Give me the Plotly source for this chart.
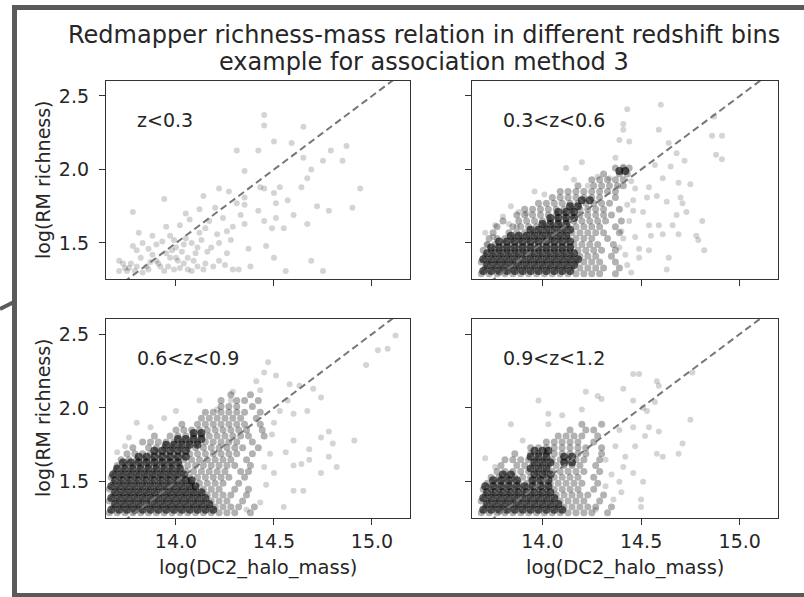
import plotly.graph_objects as go

# ---------------- data ----------------
x_ticks = [14.0, 14.5, 15.0]
y_ticks = [1.5, 2.0, 2.5]
x_range = [13.643, 15.194]
y_range = [1.255, 2.602]

# reference relation log(richness) = log(mass) - 12.5
ref_x = [13.6, 15.2]
ref_y = [1.1, 2.7]

bin_labels = ["z<0.3", "0.3<z<0.6", "0.6<z<0.9", "0.9<z<1.2"]

z1_pts = [(14.45,2.37),(14.45,2.30),(14.50,2.19),(14.59,2.18),(14.65,2.29),(14.87,2.16),(14.79,2.13),
    (14.31,2.13),(14.42,2.13),(14.65,2.08),(14.85,2.06),(14.75,2.06),(14.69,2.00),(14.35,1.99),(14.94,1.87),
    (14.64,1.88),(14.67,1.94),(14.45,1.87),(14.43,1.88),(14.53,1.88),(14.22,1.87),(13.94,1.80),(14.14,1.82),
    (14.27,1.85),(14.50,1.84),(14.57,1.79),(14.51,1.77),(14.72,1.75),(14.78,1.72),(14.90,1.74),(14.60,1.69),
    (14.67,1.63),(14.51,1.67),(14.45,1.65),(14.49,1.60),(14.55,1.60),(13.78,1.71),(14.35,1.81),(14.31,1.77),
    (14.35,1.76),(14.33,1.69),(14.35,1.63),(14.42,1.72),(14.46,1.48),(14.50,1.40),(14.69,1.38),(14.75,1.31),
    (14.56,1.31),(14.38,1.34),(14.32,1.32),(14.20,1.74),(14.12,1.73),(14.24,1.67),(14.17,1.65),(14.07,1.66),
    (14.12,1.57),(14.21,1.56),(14.28,1.52),(14.05,1.53),(13.99,1.52),(13.95,1.61),(14.02,1.62),(13.88,1.55),
    (13.90,1.49),(13.81,1.57),(13.83,1.50),(13.78,1.48),(13.71,1.38),(13.77,1.36),(13.82,1.40),(13.85,1.34),
    (13.90,1.38),(13.94,1.31),(13.99,1.32),(14.04,1.36),(14.09,1.38),(14.14,1.32),(14.19,1.34),(14.22,1.38),
    (14.26,1.43),(14.16,1.44),(14.11,1.47),(14.03,1.44),(13.95,1.43),(13.88,1.42),(13.75,1.31),(13.71,1.31),
    (13.83,1.30),(14.08,1.31),(14.29,1.32),(14.22,1.50),(14.13,1.52),(14.00,1.47),(13.93,1.51),(14.37,1.46),
    (14.29,1.61),(13.73,1.36),(13.76,1.33),(13.80,1.34),(13.87,1.37),(13.92,1.34),(13.97,1.40),(14.02,1.33),
    (14.06,1.40),(14.10,1.43),(14.15,1.36),(13.86,1.46),(13.97,1.55),(14.08,1.50),(14.18,1.47),(14.25,1.35),
    (13.80,1.45),(14.05,1.70),(14.15,1.60),(14.26,1.58),(14.00,1.40),(13.74,1.33),(13.79,1.31),(13.86,1.32),
    (13.91,1.36),(13.96,1.34),(14.01,1.38),(14.06,1.32),(14.11,1.34),(13.98,1.45),(14.04,1.49)]

z2_pts = [(14.60,2.44),(14.43,2.41),(14.59,2.27),(14.41,2.31),(14.41,2.27),(14.39,2.20),(14.44,2.19),
    (14.87,2.36),(14.86,2.23),(14.91,2.23),(14.88,2.10),(14.91,2.07),(14.64,2.18),(14.72,2.06),(14.68,2.11),
    (14.57,2.03),(14.65,2.02),(14.37,2.08),(14.41,2.02),(14.20,2.05),(14.12,2.01),(14.16,1.93),(14.23,1.89),
    (14.34,1.94),(14.28,1.95),(13.96,1.85),(14.01,1.83),(13.84,1.75),(13.88,1.71),(13.92,1.70),(13.83,1.63),
    (13.87,1.61),(13.71,1.57),(13.72,1.49),(13.75,1.54),(14.61,1.94),(14.69,1.91),(14.75,1.90),(14.54,1.88),
    (14.47,1.87),(14.70,1.81),(14.58,1.82),(14.53,1.81),(14.46,1.79),(14.63,1.78),(14.73,1.71),(14.71,1.77),
    (14.68,1.69),(14.46,1.72),(14.51,1.71),(14.54,1.62),(14.59,1.62),(14.66,1.62),(14.55,1.55),(14.61,1.56),
    (14.69,1.56),(14.78,1.55),(14.81,1.65),(14.82,1.45),(14.79,1.52),(14.64,1.40),(14.63,1.32),(14.54,1.45),
    (14.49,1.46),(14.49,1.40),(14.44,1.65),(14.41,1.53),(14.39,1.47),(14.47,1.54),(14.43,1.35),(14.45,1.30),
    (14.42,1.42),(14.40,1.58),(14.43,1.76),(14.45,1.92),(13.80,1.68),(13.76,1.62)]

z3_pts = [(15.12,2.49),(15.08,2.40),(15.03,2.39),(14.97,2.29),(14.47,2.31),(14.45,2.24),(14.51,2.22),
    (14.41,2.18),(14.58,2.16),(14.63,2.15),(14.70,2.13),(14.74,2.07),(14.67,1.98),(14.53,1.98),(14.60,1.96),
    (14.57,2.05),(14.43,2.12),(14.29,2.11),(14.28,2.05),(14.12,2.05),(14.21,1.99),(14.00,1.98),(13.94,1.93),
    (13.87,1.87),(13.76,1.80),(13.74,1.74),(14.74,1.80),(14.80,1.76),(14.91,1.78),(14.78,1.84),(14.60,1.78),
    (14.56,1.70),(14.68,1.72),(14.60,1.61),(14.64,1.62),(14.68,1.65),(14.78,1.67),(14.82,1.60),(14.74,1.56),
    (14.60,1.44),(14.65,1.44),(14.55,1.33),(14.36,1.31),(14.50,1.56),(14.48,1.69),(14.45,1.60),(14.43,1.36),
    (14.46,1.48),(14.49,1.82),(14.50,1.90),(13.80,1.90),(13.70,1.70)]

z4_pts = [(14.46,2.23),(14.49,2.23),(14.58,2.18),(14.59,2.15),(14.76,2.24),(14.41,2.13),(14.22,2.11),
    (14.28,2.08),(14.30,2.06),(13.98,2.05),(14.20,1.99),(14.03,1.96),(14.10,1.95),(13.84,1.89),(14.51,2.00),
    (14.53,1.98),(14.57,2.04),(14.46,2.05),(14.75,1.92),(14.54,1.87),(14.46,1.87),(14.59,1.84),(14.52,1.81),
    (14.39,1.85),(14.47,1.74),(14.58,1.69),(14.71,1.76),(14.69,1.69),(14.61,1.67),(14.37,1.74),(14.42,1.67),
    (14.32,1.65),(14.41,1.60),(14.46,1.56),(14.51,1.50),(14.39,1.50),(14.32,1.47),(14.40,1.43),(14.50,1.38),
    (14.50,1.33),(14.27,1.31),(13.71,1.66),(14.03,1.89),(14.36,1.38),(14.35,1.55),(13.76,1.60),(13.90,1.78)]

# dense clouds: rows of (log richness, [log mass values])
z2_mid_rows = [
    (1.29, [13.69,13.73,13.77,13.81,13.85,13.89,13.93,13.97,14.01,14.05,14.09,14.13,14.17,14.21,14.25,14.29,14.37]),
    (1.33, [13.71,13.75,13.79,13.83,13.87,13.91,13.95,13.99,14.03,14.07,14.11,14.15,14.19,14.23,14.27,14.31,14.39]),
    (1.37, [13.69,13.73,13.77,13.81,13.85,13.89,13.93,13.97,14.01,14.05,14.09,14.13,14.17,14.21,14.25,14.29,14.37]),
    (1.41, [13.71,13.75,13.79,13.83,13.87,13.91,13.95,13.99,14.03,14.07,14.11,14.15,14.19,14.23,14.27,14.35]),
    (1.45, [13.70,13.74,13.78,13.82,13.86,13.90,13.94,13.98,14.02,14.06,14.10,14.14,14.18,14.22,14.26,14.30,14.37]),
    (1.49, [13.72,13.76,13.80,13.84,13.88,13.92,13.96,14.00,14.04,14.08,14.12,14.16,14.20,14.24,14.28,14.36]),
    (1.53, [13.73,13.77,13.81,13.85,13.89,13.93,13.97,14.01,14.05,14.09,14.13,14.17,14.21,14.25,14.33]),
    (1.57, [13.75,13.83,13.87,13.91,13.95,13.99,14.03,14.07,14.11,14.15,14.19,14.23,14.27,14.31,14.39]),
    (1.61, [13.77,13.85,13.89,13.93,13.97,14.01,14.05,14.09,14.13,14.17,14.21,14.25,14.29,14.37]),
    (1.65, [13.80,13.88,13.92,13.96,14.00,14.04,14.08,14.12,14.16,14.20,14.24,14.28,14.32,14.40]),
    (1.69, [13.87,13.91,13.95,13.99,14.03,14.07,14.11,14.15,14.19,14.23,14.27,14.31,14.35]),
    (1.73, [13.91,13.95,13.99,14.03,14.07,14.11,14.15,14.19,14.23,14.27,14.31,14.39]),
    (1.77, [13.98,14.02,14.06,14.10,14.14,14.18,14.22,14.26,14.30,14.34]),
    (1.81, [14.05,14.09,14.13,14.17,14.21,14.25,14.29,14.37]),
    (1.85, [14.09,14.13,14.17,14.21,14.25,14.29,14.33,14.37]),
    (1.89, [14.18,14.26,14.30,14.34,14.38,14.41]),
    (1.93, [14.25,14.29,14.33,14.37,14.41]),
    (1.97, [14.31,14.39,14.43]),
    (2.01, [14.37,14.41,14.44]),
]
z2_core_rows = [
    (1.31, [13.70,13.74,13.78,13.82,13.86,13.90,13.94,13.98,14.02,14.06,14.10,14.14]),
    (1.35, [13.72,13.76,13.80,13.84,13.88,13.92,13.96,14.00,14.04,14.08,14.12,14.16]),
    (1.39, [13.70,13.74,13.78,13.82,13.86,13.90,13.94,13.98,14.02,14.06,14.10,14.14,14.18]),
    (1.43, [13.72,13.76,13.80,13.84,13.88,13.92,13.96,14.00,14.04,14.08,14.12,14.16]),
    (1.47, [13.74,13.78,13.82,13.86,13.90,13.94,13.98,14.02,14.06,14.10,14.14]),
    (1.51, [13.78,13.82,13.86,13.90,13.94,13.98,14.02,14.06,14.10,14.14]),
    (1.55, [13.84,13.88,13.92,13.96,14.00,14.04,14.08,14.12]),
    (1.59, [13.94,13.98,14.02,14.06,14.10,14.14]),
    (1.63, [14.00,14.04,14.08,14.12]),
    (1.67, [14.04,14.08,14.12,14.16]),
    (1.71, [14.08,14.12,14.16]),
    (1.75, [14.14,14.18]),
    (1.79, [14.20,14.24]),
    (1.99, [14.39,14.42]),
]
z3_mid_rows = [
    (1.29, [13.66,13.70,13.74,13.78,13.82,13.86,13.90,13.94,13.98,14.02,14.06,14.10,14.14,14.18,14.22,14.26,14.30,14.38]),
    (1.33, [13.68,13.72,13.76,13.80,13.84,13.88,13.92,13.96,14.00,14.04,14.08,14.12,14.16,14.20,14.24,14.28,14.32,14.40]),
    (1.37, [13.66,13.70,13.74,13.78,13.82,13.86,13.90,13.94,13.98,14.02,14.06,14.10,14.14,14.18,14.22,14.26,14.34]),
    (1.41, [13.68,13.72,13.76,13.80,13.84,13.88,13.92,13.96,14.00,14.04,14.08,14.12,14.16,14.20,14.24,14.28,14.36]),
    (1.45, [13.66,13.70,13.74,13.78,13.82,13.86,13.90,13.94,13.98,14.02,14.06,14.10,14.14,14.18,14.22,14.30,14.37]),
    (1.49, [13.68,13.72,13.76,13.80,13.84,13.88,13.92,13.96,14.00,14.04,14.08,14.12,14.16,14.20,14.24,14.32]),
    (1.53, [13.67,13.71,13.75,13.79,13.83,13.87,13.91,13.95,13.99,14.03,14.07,14.11,14.15,14.19,14.23,14.27,14.35]),
    (1.57, [13.69,13.73,13.77,13.81,13.85,13.89,13.93,13.97,14.01,14.05,14.09,14.13,14.17,14.21,14.25,14.33,14.37]),
    (1.61, [13.70,13.74,13.78,13.82,13.86,13.90,13.94,13.98,14.02,14.06,14.10,14.14,14.18,14.22,14.26,14.30,14.38]),
    (1.65, [13.72,13.76,13.80,13.84,13.88,13.92,13.96,14.00,14.04,14.08,14.12,14.16,14.20,14.24,14.28,14.36]),
    (1.69, [13.75,13.79,13.83,13.87,13.91,13.95,13.99,14.03,14.07,14.11,14.15,14.19,14.23,14.27,14.31,14.39]),
    (1.73, [13.78,13.86,13.90,13.94,13.98,14.02,14.06,14.10,14.14,14.18,14.22,14.26,14.30,14.34,14.42]),
    (1.77, [13.83,13.87,13.91,13.95,13.99,14.03,14.07,14.11,14.15,14.19,14.23,14.27,14.31,14.39]),
    (1.81, [13.89,13.97,14.01,14.05,14.09,14.13,14.17,14.21,14.25,14.29,14.33,14.37,14.45]),
    (1.85, [14.00,14.04,14.08,14.12,14.16,14.20,14.24,14.28,14.32,14.36,14.44]),
    (1.89, [14.03,14.11,14.15,14.19,14.23,14.27,14.31,14.35,14.43]),
    (1.93, [14.13,14.17,14.21,14.25,14.29,14.33,14.41]),
    (1.97, [14.15,14.19,14.23,14.27,14.31,14.35,14.43]),
    (2.01, [14.23,14.27,14.31,14.39]),
    (2.05, [14.23,14.31,14.35,14.42]),
    (2.09, [14.28,14.38]),
]
z3_core_rows = [
    (1.31, [13.67,13.71,13.75,13.79,13.83,13.87,13.91,13.95,13.99,14.03,14.07,14.11,14.15,14.19]),
    (1.35, [13.69,13.73,13.77,13.81,13.85,13.89,13.93,13.97,14.01,14.05,14.09,14.13,14.17]),
    (1.39, [13.67,13.71,13.75,13.79,13.83,13.87,13.91,13.95,13.99,14.03,14.07,14.11,14.15]),
    (1.43, [13.69,13.73,13.77,13.81,13.85,13.89,13.93,13.97,14.01,14.05,14.09,14.13]),
    (1.47, [13.67,13.71,13.75,13.79,13.83,13.87,13.91,13.95,13.99,14.03,14.07,14.10]),
    (1.51, [13.69,13.73,13.77,13.81,13.85,13.89,13.93,13.97,14.01,14.05,14.08]),
    (1.55, [13.68,13.72,13.76,13.80,13.84,13.88,13.92,13.96,14.00,14.04]),
    (1.59, [13.70,13.74,13.78,13.82,13.86,13.90,13.94,13.98,14.02]),
    (1.63, [13.73,13.77,13.81,13.85,13.89,13.93,13.97,14.01]),
    (1.67, [13.81,13.85,13.89,13.93,13.97,14.01,14.05]),
    (1.71, [13.89,13.93,13.97,14.01,14.05]),
    (1.75, [13.95,13.99,14.03,14.07,14.11]),
    (1.79, [14.01,14.05,14.09,14.13]),
    (1.83, [14.09,14.13]),
]
z4_mid_rows = [
    (1.29, [13.69,13.73,13.77,13.81,13.85,13.89,13.93,13.97,14.01,14.05,14.09,14.13,14.17,14.21,14.25,14.33]),
    (1.33, [13.71,13.75,13.79,13.83,13.87,13.91,13.95,13.99,14.03,14.07,14.11,14.15,14.19,14.23,14.27,14.35]),
    (1.37, [13.69,13.73,13.77,13.81,13.85,13.89,13.93,13.97,14.01,14.05,14.09,14.13,14.17,14.21,14.29]),
    (1.41, [13.71,13.75,13.79,13.83,13.87,13.91,13.95,13.99,14.03,14.07,14.11,14.15,14.19,14.23,14.31]),
    (1.45, [13.70,13.74,13.78,13.82,13.86,13.90,13.94,13.98,14.02,14.06,14.10,14.14,14.18,14.26]),
    (1.49, [13.72,13.76,13.80,13.84,13.88,13.92,13.96,14.00,14.04,14.08,14.12,14.16,14.20,14.28]),
    (1.53, [13.74,13.78,13.82,13.86,13.90,13.94,13.98,14.02,14.06,14.10,14.14,14.18,14.26]),
    (1.57, [13.77,13.81,13.85,13.89,13.93,13.97,14.01,14.05,14.09,14.13,14.17,14.21,14.29]),
    (1.61, [13.79,13.87,13.91,13.95,13.99,14.03,14.07,14.11,14.15,14.19,14.27]),
    (1.65, [13.81,13.85,13.89,13.93,13.97,14.01,14.05,14.09,14.13,14.17,14.21,14.29]),
    (1.69, [13.86,13.94,13.98,14.02,14.06,14.10,14.14,14.18,14.22,14.30]),
    (1.73, [13.94,13.98,14.02,14.06,14.10,14.14,14.18,14.22,14.30]),
    (1.77, [14.02,14.06,14.10,14.14,14.18,14.26]),
    (1.81, [14.08,14.12,14.16,14.20,14.28]),
    (1.85, [14.14,14.22,14.26]),
    (1.89, [14.20,14.30]),
]
z4_core_rows = [
    (1.31, [13.70,13.74,13.78,13.82,13.86,13.90,13.94,13.98,14.02,14.06,14.10]),
    (1.35, [13.72,13.76,13.80,13.84,13.88,13.92,13.96,14.00,14.04,14.08]),
    (1.39, [13.70,13.74,13.78,13.82,13.86,13.90,13.94,13.98,14.02,14.06]),
    (1.43, [13.72,13.76,13.80,13.84,13.88,13.92,13.96,14.00,14.04]),
    (1.47, [13.71,13.75,13.79,13.83,13.87,13.91,13.95,13.99,14.03]),
    (1.51, [13.75,13.79,13.83,13.87,13.95,13.99,14.03]),
    (1.55, [13.80,13.84,13.96,14.00,14.04]),
    (1.59, [13.94,13.98,14.02]),
    (1.63, [13.96,14.00,14.04,14.11,14.15]),
    (1.67, [13.94,13.98,14.02,14.11,14.15]),
    (1.71, [13.96,14.00,14.03]),
]

# ---------------- figure ----------------
W, H = 804, 597
FONT = "DejaVu Sans"
TXT = "#262626"

def px(x):
    return x / W

def py(y):
    return 1 - y / H

def unzip(pts):
    return [p[0] for p in pts], [p[1] for p in pts]

def expand(rows):
    xs, ys = [], []
    for yv, xl in rows:
        for xv in xl:
            xs.append(xv)
            ys.append(yv)
    return xs, ys

panels = [
    dict(pts=z1_pts, mid=[], core=[], xa="x", ya="y"),
    dict(pts=z2_pts, mid=z2_mid_rows, core=z2_core_rows, xa="x2", ya="y2"),
    dict(pts=z3_pts, mid=z3_mid_rows, core=z3_core_rows, xa="x3", ya="y3"),
    dict(pts=z4_pts, mid=z4_mid_rows, core=z4_core_rows, xa="x4", ya="y4"),
]

fig = go.Figure()
for i, p in enumerate(panels):
    if p["mid"]:
        mx, my = expand(p["mid"])
        fig.add_trace(go.Scatter(x=mx, y=my, xaxis=p["xa"], yaxis=p["ya"], mode="markers",
                                 marker=dict(size=7, color="black", opacity=0.3, line=dict(width=0)),
                                 showlegend=False, hoverinfo="skip"))
    if p["core"]:
        cx, cy = expand(p["core"])
        fig.add_trace(go.Scatter(x=cx, y=cy, xaxis=p["xa"], yaxis=p["ya"], mode="markers",
                                 marker=dict(size=8, color="black", opacity=0.62, line=dict(width=0)),
                                 showlegend=False, hoverinfo="skip"))
    sx, sy = unzip(p["pts"])
    fig.add_trace(go.Scatter(x=sx, y=sy, xaxis=p["xa"], yaxis=p["ya"], mode="markers",
                             marker=dict(size=6, color="black", opacity=0.17, line=dict(width=0)),
                             showlegend=False, hoverinfo="skip"))
    fig.add_trace(go.Scatter(x=ref_x, y=ref_y, xaxis=p["xa"], yaxis=p["ya"], mode="lines",
                             line=dict(color="#777777", width=2, dash="7px,4px"),
                             showlegend=False, hoverinfo="skip"))
    fig.add_annotation(x=13.79, y=2.335, xref=p["xa"], yref=p["ya"], text=bin_labels[i],
                       showarrow=False, xanchor="left", yanchor="middle",
                       font=dict(family=FONT, size=19, color=TXT))

x_dom_l = [px(106), px(410)]
x_dom_r = [px(472), px(778)]
y_dom_t = [py(279), py(81)]
y_dom_b = [py(518), py(319)]

common = dict(showline=True, mirror=True, linecolor="#333333", linewidth=1.3, showgrid=False,
              zeroline=False, ticks="outside", ticklen=6, tickwidth=1.3, tickcolor="#333333",
              tickfont=dict(family=FONT, size=19, color=TXT))

def xax(dom, anchor, labels):
    return dict(common, domain=dom, anchor=anchor, range=x_range, tickvals=x_ticks,
                ticktext=[f"{v:.1f}" for v in x_ticks], showticklabels=labels, ticklabelstandoff=0)

def yax(dom, anchor, labels):
    return dict(common, domain=dom, anchor=anchor, range=y_range, tickvals=y_ticks,
                ticktext=[f"{v:.1f}" for v in y_ticks], showticklabels=labels, ticklabelstandoff=6)

fig.update_layout(
    width=W, height=H, margin=dict(l=0, r=0, t=0, b=0),
    paper_bgcolor="white", plot_bgcolor="white",
    xaxis=xax(x_dom_l, "y", False), yaxis=yax(y_dom_t, "x", True),
    xaxis2=xax(x_dom_r, "y2", False), yaxis2=yax(y_dom_t, "x2", False),
    xaxis3=xax(x_dom_l, "y3", True), yaxis3=yax(y_dom_b, "x3", True),
    xaxis4=xax(x_dom_r, "y4", True), yaxis4=yax(y_dom_b, "x4", False),
)

# titles and axis labels
fig.add_annotation(x=px(424), y=py(35), xref="paper", yref="paper", showarrow=False,
                   text="Redmapper richness-mass relation in different redshift bins",
                   font=dict(family=FONT, size=24, color=TXT), xanchor="center", yanchor="middle")
fig.add_annotation(x=px(424), y=py(62), xref="paper", yref="paper", showarrow=False,
                   text="example for association method 3",
                   font=dict(family=FONT, size=24, color=TXT), xanchor="center", yanchor="middle")
for cy in (180, 418):
    fig.add_annotation(x=px(43), y=py(cy), xref="paper", yref="paper", showarrow=False,
                       text="log(RM richness)", textangle=-90,
                       font=dict(family=FONT, size=19, color=TXT), xanchor="center", yanchor="middle")
for cx in (258, 625):
    fig.add_annotation(x=px(cx), y=py(567), xref="paper", yref="paper", showarrow=False,
                       text="log(DC2_halo_mass)",
                       font=dict(family=FONT, size=19.5, color=TXT), xanchor="center", yanchor="middle")

# screenshot frame around the figure
FR = "#5a5a5a"
fig.add_shape(type="rect", xref="paper", yref="paper", x0=px(12), x1=1.0, y0=py(10), y1=py(5),
              fillcolor=FR, line=dict(width=0), layer="above")
fig.add_shape(type="rect", xref="paper", yref="paper", x0=px(12), x1=px(17), y0=0, y1=py(5),
              fillcolor=FR, line=dict(width=0), layer="above")
fig.add_shape(type="rect", xref="paper", yref="paper", x0=px(12), x1=1.0, y0=0, y1=py(593),
              fillcolor=FR, line=dict(width=0), layer="above")
fig.add_shape(type="line", xref="paper", yref="paper", x0=0, y0=py(309), x1=px(14), y1=py(302),
              line=dict(color=FR, width=4), layer="above")

fig.write_html("out.html")
